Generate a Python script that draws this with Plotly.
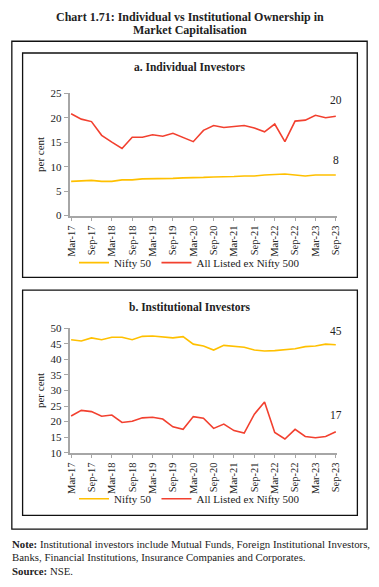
import plotly.graph_objects as go

quarters = ["Mar-17","Jun-17","Sep-17","Dec-17","Mar-18","Jun-18","Sep-18","Dec-18",
            "Mar-19","Jun-19","Sep-19","Dec-19","Mar-20","Jun-20","Sep-20","Dec-20",
            "Mar-21","Jun-21","Sep-21","Dec-21","Mar-22","Jun-22","Sep-22","Dec-22",
            "Mar-23","Jun-23","Sep-23"]
tick_labels = quarters[::2]

ind_nifty50 = [7.0, 7.1, 7.2, 7.0, 7.0, 7.3, 7.3, 7.5, 7.5, 7.6, 7.6, 7.7, 7.7, 7.8,
               7.9, 7.9, 8.0, 8.1, 8.1, 8.3, 8.4, 8.5, 8.3, 8.1, 8.3, 8.3, 8.3]
ind_ex500 = [20.8, 19.7, 19.2, 16.4, 15.0, 13.7, 16.0, 16.0, 16.5, 16.2, 16.8, 15.9, 15.1,
             17.4, 18.4, 18.0, 18.2, 18.4, 17.9, 17.1, 18.7, 15.1, 19.3, 19.5, 20.5, 20.0, 20.3]
ins_nifty50 = [46.3, 45.9, 46.9, 46.3, 47.1, 47.1, 46.3, 47.4, 47.5, 47.2, 46.9, 47.3, 44.9,
               44.3, 43.0, 44.5, 44.3, 43.9, 43.0, 42.7, 42.8, 43.0, 43.4, 44.1, 44.3, 44.9, 44.7]
ins_ex500 = [21.8, 23.6, 23.2, 21.7, 22.1, 19.7, 20.1, 21.2, 21.4, 20.8, 18.3, 17.5, 21.6,
             21.1, 17.8, 19.2, 17.1, 16.3, 22.4, 26.3, 16.5, 14.4, 17.5, 15.2, 14.8, 15.2, 16.7]

YEL = "#FFC000"
RED = "#F2402F"
FONT = "Liberation Serif"
TXT = "#222"
W, H = 379, 587

def px(x):
    return x / W

def py(y):
    return 1 - y / H

fig = go.Figure()
fig.add_trace(go.Scatter(x=quarters, y=ind_nifty50, mode="lines", name="Nifty 50",
                         line=dict(color=YEL, width=1.6), xaxis="x", yaxis="y", legend="legend"))
fig.add_trace(go.Scatter(x=quarters, y=ind_ex500, mode="lines", name="All Listed ex Nifty 500",
                         line=dict(color=RED, width=1.6), xaxis="x", yaxis="y", legend="legend"))
fig.add_trace(go.Scatter(x=quarters, y=ins_nifty50, mode="lines", name="Nifty 50",
                         line=dict(color=YEL, width=1.6), xaxis="x2", yaxis="y2", legend="legend2"))
fig.add_trace(go.Scatter(x=quarters, y=ins_ex500, mode="lines", name="All Listed ex Nifty 500",
                         line=dict(color=RED, width=1.6), xaxis="x2", yaxis="y2", legend="legend2"))

xcommon = dict(type="category", categoryorder="array", categoryarray=quarters,
               range=[-0.15, 26.1], tickmode="array", tickvals=tick_labels, ticktext=tick_labels,
               tickangle=-90, tickfont=dict(family=FONT, size=10.5, color=TXT),
               showline=True, linecolor="#A6A6A6", linewidth=1.5, ticks="outside",
               ticklen=4, tickcolor="#A6A6A6", showgrid=False, zeroline=False, fixedrange=True)
ycommon = dict(showline=True, linecolor="#A6A6A6", linewidth=2, ticks="outside", ticklen=4,
               tickcolor="#A6A6A6", showgrid=False, zeroline=False,
               tickfont=dict(family=FONT, size=11, color=TXT),
               title=dict(text="per cent", font=dict(family=FONT, size=11, color=TXT), standoff=4))

fig.update_layout(
    width=W, height=H, margin=dict(l=0, r=0, t=0, b=0),
    paper_bgcolor="white", plot_bgcolor="white",
    xaxis=dict(xcommon, domain=[px(67), px(340)], anchor="y"),
    yaxis=dict(ycommon, domain=[py(214), py(89)], range=[0, 25], dtick=5, anchor="x"),
    xaxis2=dict(xcommon, domain=[px(67), px(340)], anchor="y2"),
    yaxis2=dict(ycommon, domain=[py(456), py(329)], range=[10, 50], dtick=5, anchor="x2"),
    legend=dict(orientation="h", x=0.5, xanchor="center", y=py(262), yanchor="middle",
                font=dict(family=FONT, size=11, color=TXT), bgcolor="rgba(0,0,0,0)"),
    legend2=dict(orientation="h", x=0.5, xanchor="center", y=py(503), yanchor="middle",
                 font=dict(family=FONT, size=11, color=TXT), bgcolor="rgba(0,0,0,0)"),
    showlegend=True,
)

shapes = [
    dict(type="rect", xref="paper", yref="paper", x0=px(8), x1=px(371), y0=py(534), y1=py(36),
         line=dict(color="#111", width=1.3)),
    dict(type="rect", xref="paper", yref="paper", x0=px(19), x1=px(361), y0=py(277), y1=py(48),
         line=dict(color="#111", width=1.3)),
    dict(type="rect", xref="paper", yref="paper", x0=px(19), x1=px(361), y0=py(520), y1=py(290),
         line=dict(color="#111", width=1.3)),
]
fig.update_layout(shapes=shapes)

title_lines = ["Chart 1.71: Individual vs Institutional Ownership in", "Market Capitalisation"]
note_lines = ["<b>Note:</b> Institutional investors include Mutual Funds, Foreign Institutional Investors,",
              "Banks, Financial Institutions, Insurance Companies and Corporates.",
              "<b>Source:</b> NSE."]

ann = []
for i, t in enumerate(title_lines):
    ann.append(dict(text="<b>" + t + "</b>", x=px(190), y=py(11 + 13 * i), xanchor="center",
                    yanchor="middle", font=dict(family=FONT, size=12, color=TXT)))
ann += [
    dict(text="<b>a. Individual Investors</b>", x=px(190), y=py(62), xanchor="center", yanchor="middle",
         font=dict(family=FONT, size=11.5, color=TXT)),
    dict(text="<b>b. Institutional Investors</b>", x=px(190), y=py(307), xanchor="center", yanchor="middle",
         font=dict(family=FONT, size=11.5, color=TXT)),
]
for i, t in enumerate(note_lines):
    ann.append(dict(text=t, x=px(6), y=py(549 + 14 * i), xanchor="left", yanchor="middle",
                    align="left", font=dict(family=FONT, size=10.8, color=TXT)))
for a in ann:
    a.update(xref="paper", yref="paper", showarrow=False)

# end-value labels
ends = [("x", "y", ind_ex500, 23.6), ("x", "y", ind_nifty50, 11.4),
        ("x2", "y2", ins_nifty50, 49.0), ("x2", "y2", ins_ex500, 22.0)]
for xr, yr, series, ypos in ends:
    ann.append(dict(text=str(round(series[-1])), x=quarters[-1], y=ypos, xref=xr, yref=yr,
                    xanchor="center", yanchor="middle", showarrow=False,
                    font=dict(family=FONT, size=11.5, color=TXT)))
fig.update_layout(annotations=ann)

fig.write_html("out.html", config={"displayModeBar": False},
               post_script="document.body.style.margin='0';document.body.style.overflow='hidden';")
